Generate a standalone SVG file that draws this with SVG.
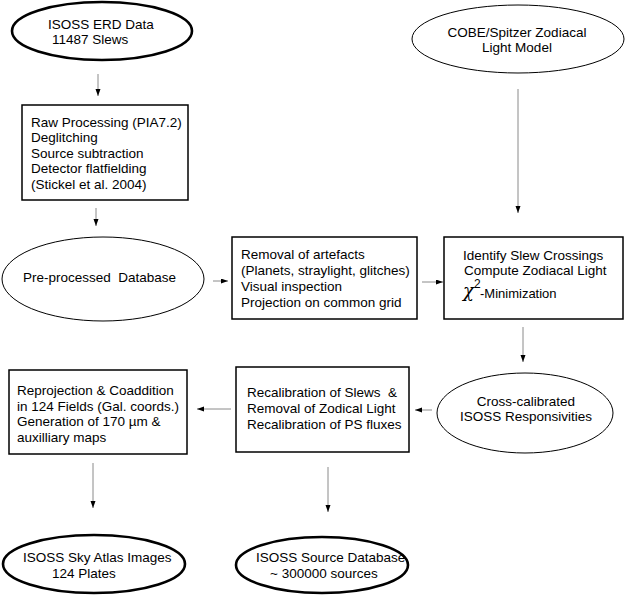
<svg xmlns="http://www.w3.org/2000/svg" width="625" height="595" viewBox="0 0 625 595">
<defs>
<style>
text{font-family:"Liberation Sans",Arial,sans-serif;font-size:13.5px;fill:#000}
.c{text-anchor:middle}
.box{fill:#fff;stroke:#000;stroke-width:1.5}
.thin{fill:#fff;stroke:#000;stroke-width:1}
.thick{fill:#fff;stroke:#000;stroke-width:2.6}
.con line{stroke:#8a8a8a;stroke-width:1;marker-end:url(#ah)}
</style>
<marker id="ah" markerUnits="userSpaceOnUse" markerWidth="8" markerHeight="6" refX="7" refY="2.5" orient="auto">
<path d="M0,0 L7,2.5 L0,5 z" fill="#000"/>
</marker>
</defs>
<rect width="625" height="595" fill="#fff"/>
<g id="erd">
<ellipse class="thick" cx="102" cy="31" rx="90" ry="29"/>
<text x="48" y="29">ISOSS ERD Data</text>
<text x="52" y="44">11487 Slews</text>
</g>
<g id="cobe">
<ellipse class="thin" cx="518" cy="39" rx="106" ry="34"/>
<text class="c" x="517" y="37">COBE/Spitzer Zodiacal</text>
<text class="c" x="517" y="52">Light Model</text>
</g>
<g id="raw">
<rect class="box" x="22" y="105" width="166" height="95"/>
<text x="31" y="127">Raw Processing (PIA7.2)</text>
<text x="31" y="142">Deglitching</text>
<text x="31" y="158">Source subtraction</text>
<text x="31" y="173">Detector flatfielding</text>
<text x="31" y="189">(Stickel et al. 2004)</text>
</g>
<g id="preproc">
<ellipse class="thin" cx="103" cy="279" rx="101" ry="42"/>
<text x="23" y="282" xml:space="preserve">Pre-processed  Database</text>
</g>
<g id="removal">
<rect class="box" x="232" y="237" width="185" height="82"/>
<text x="241" y="259">Removal of artefacts</text>
<text x="241" y="275">(Planets, straylight, glitches)</text>
<text x="241" y="291">Visual inspection</text>
<text x="241" y="307">Projection on common grid</text>
</g>
<g id="identify">
<rect class="box" x="444" y="237" width="179" height="82"/>
<text x="463" y="260">Identify Slew Crossings</text>
<text x="464" y="275">Compute Zodiacal Light</text>
<text x="463" y="297" style="font-family:'DejaVu Serif',serif;font-size:18px;font-style:italic">χ</text>
<text x="474" y="288" style="font-size:12px">2</text>
<text x="480" y="298" style="font-size:13px">-Minimization</text>
</g>
<g id="crosscal">
<ellipse class="thin" cx="525" cy="413" rx="88" ry="40"/>
<text class="c" x="526" y="406">Cross-calibrated</text>
<text class="c" x="526" y="421">ISOSS Responsivities</text>
</g>
<g id="recal">
<rect class="box" x="236" y="367" width="173" height="85"/>
<text x="247" y="397" xml:space="preserve">Recalibration of Slews  &amp;</text>
<text x="247" y="413">Removal of Zodical Light</text>
<text x="247" y="429">Recalibration of PS fluxes</text>
</g>
<g id="reproj">
<rect class="box" x="9" y="370" width="178" height="84"/>
<text x="17" y="395">Reprojection &amp; Coaddition</text>
<text x="17" y="411">in 124 Fields (Gal. coords.)</text>
<text x="17" y="426">Generation of 170 µm &amp;</text>
<text x="17" y="442">auxilliary maps</text>
</g>
<g id="skyatlas">
<ellipse class="thick" cx="94" cy="564" rx="91" ry="29"/>
<text x="23" y="562">ISOSS Sky Atlas Images</text>
<text x="52" y="578">124 Plates</text>
</g>
<g id="sourcedb">
<ellipse class="thick" cx="322" cy="565" rx="86" ry="28"/>
<text x="256" y="562">ISOSS Source Database</text>
<text x="270" y="578">~ 300000 sources</text>
</g>
<g id="connectors" class="con">
<line x1="98" y1="74" x2="98" y2="96"/>
<line x1="96" y1="208" x2="96" y2="226"/>
<line x1="213" y1="281" x2="228" y2="281"/>
<line x1="422" y1="282" x2="443" y2="282"/>
<line x1="518" y1="89" x2="518" y2="213"/>
<line x1="523" y1="327" x2="523" y2="362"/>
<line x1="432" y1="410" x2="415" y2="410"/>
<line x1="231" y1="409" x2="197" y2="409"/>
<line x1="93" y1="463" x2="93" y2="508"/>
<line x1="328" y1="467" x2="328" y2="512"/>
</g>
</svg>
